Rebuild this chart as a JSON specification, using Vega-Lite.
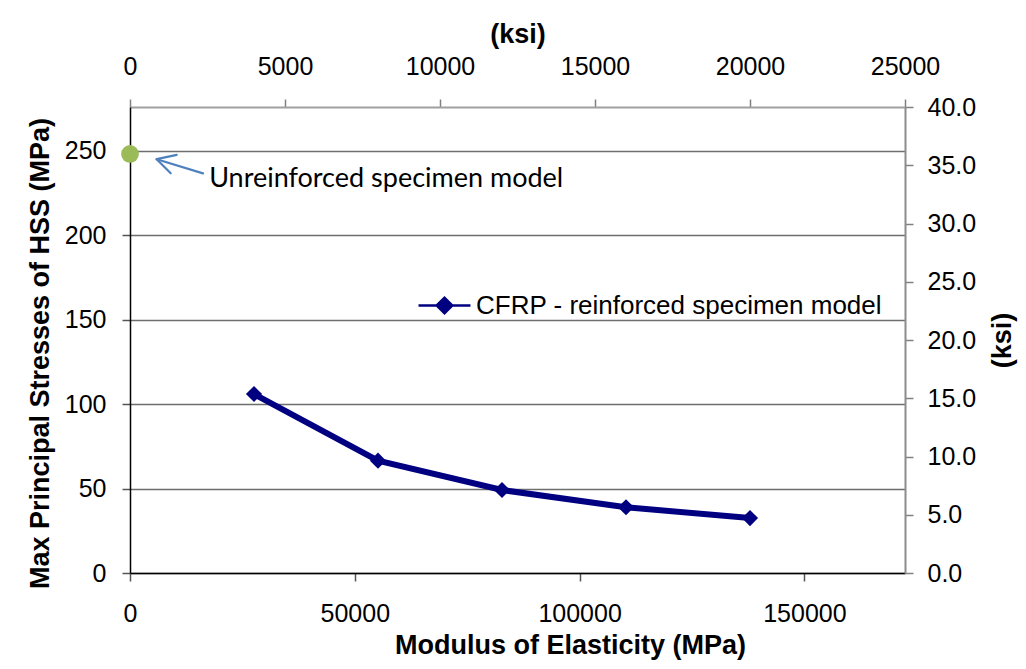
{
  "$schema": "https://vega.github.io/schema/vega-lite/v6.json",
  "width": 775,
  "height": 466,
  "autosize": {"type": "none"},
  "padding": {"left": 130, "top": 107, "right": 121, "bottom": 96},
  "background": "white",
  "config": {
    "view": {"stroke": null},
    "font": "Liberation Sans",
    "axis": {
      "labelFont": "Liberation Sans",
      "labelFontSize": 25,
      "labelColor": "black",
      "labelFlush": false,
      "labelOverlap": false,
      "labelBound": false,
      "titleFont": "Liberation Sans",
      "titleFontSize": 27,
      "titleFontWeight": "bold",
      "titleColor": "black",
      "tickSize": 8,
      "tickColor": "#808080",
      "tickWidth": 1.5
    }
  },
  "datasets": {
    "cfrp": [
      {"modulus": 27579, "stress": 105.9, "series": "CFRP - reinforced specimen model"},
      {"modulus": 55158, "stress": 66.5, "series": "CFRP - reinforced specimen model"},
      {"modulus": 82737, "stress": 49.1, "series": "CFRP - reinforced specimen model"},
      {"modulus": 110316, "stress": 38.9, "series": "CFRP - reinforced specimen model"},
      {"modulus": 137895, "stress": 32.5, "series": "CFRP - reinforced specimen model"}
    ],
    "unreinforced": [
      {"modulus": 0, "stress": 248}
    ],
    "note": [
      {"modulus": 17600, "stress": 233, "label": "Unreinforced specimen model"}
    ],
    "arrow": [
      {"modulus": 16236, "stress": 236.5, "modulus_end": 5938, "stress_end": 244.9},
      {"modulus": 10387, "stress": 247.5, "modulus_end": 5938, "stress_end": 244.9},
      {"modulus": 9052, "stress": 236.6, "modulus_end": 5938, "stress_end": 244.9}
    ],
    "ksi": [
      {"modulus_ksi": 0, "stress_ksi": 0},
      {"modulus_ksi": 25000, "stress_ksi": 40}
    ]
  },
  "layer": [
    {
      "encoding": {
        "x": {
          "field": "modulus",
          "type": "quantitative",
          "scale": {"domain": [0, 172369], "nice": false, "zero": false},
          "axis": {
            "orient": "bottom",
            "title": "Modulus of Elasticity (MPa)",
            "values": [0, 50000, 100000, 150000],
            "format": "d",
            "grid": false,
            "domainColor": "black",
            "domainWidth": 1.5,
            "tickColor": "#555555",
            "labelPadding": 20,
            "titlePadding": 6,
            "titleX": 440,
            "titleAnchor": null
          }
        },
        "y": {
          "field": "stress",
          "type": "quantitative",
          "scale": {"domain": [0, 275.79], "nice": false},
          "axis": {
            "orient": "left",
            "title": "Max Principal Stresses of HSS (MPa)",
            "values": [0, 50, 100, 150, 200, 250],
            "grid": true,
            "gridColor": "#6e6e6e",
            "gridWidth": 1.3,
            "domainColor": "black",
            "domainWidth": 1.5,
            "tickColor": "#555555",
            "labelPadding": 16,
            "titleX": -90,
            "titleY": 246,
            "titleAlign": "center",
            "titleBaseline": "middle",
            "titleAnchor": null
          }
        }
      },
      "layer": [
        {
          "data": {"name": "cfrp"},
          "mark": {"type": "line", "strokeWidth": 6},
          "encoding": {
            "color": {
              "field": "series",
              "type": "nominal",
              "scale": {"range": ["#000080"]},
              "legend": {
                "title": null,
                "orient": "none",
                "legendX": 287,
                "legendY": 171,
                "symbolType": "M-1,0L-0.3,0M0.3,0L1,0M-0.3,0L0,-0.3L0.3,0L0,0.3Z",
                "symbolSize": 2700,
                "symbolStrokeWidth": 2.5,
                "symbolStrokeColor": "#000080",
                "symbolFillColor": "#000080",
                "labelFont": "Liberation Sans",
                "labelFontSize": 26,
                "labelColor": "black",
                "labelLimit": 0,
                "labelOffset": 4
              }
            }
          }
        },
        {
          "data": {"name": "cfrp"},
          "mark": {"type": "point", "shape": "diamond", "filled": true, "size": 260, "opacity": 1, "color": "#000080"}
        },
        {
          "data": {"name": "unreinforced"},
          "mark": {"type": "circle", "size": 314, "opacity": 1, "color": "#9bbb59", "clip": false}
        },
        {
          "data": {"name": "arrow"},
          "mark": {"type": "rule", "color": "#4f81bd", "strokeWidth": 2.2, "strokeCap": "round"},
          "encoding": {
            "x2": {"field": "modulus_end"},
            "y2": {"field": "stress_end"}
          }
        },
        {
          "data": {"name": "note"},
          "mark": {"type": "text", "align": "left", "baseline": "middle", "font": "Lato", "fontSize": 27, "color": "black"},
          "encoding": {
            "text": {"field": "label"}
          }
        }
      ]
    },
    {
      "data": {"name": "ksi"},
      "mark": {"type": "point", "opacity": 0},
      "encoding": {
        "x": {
          "field": "modulus_ksi",
          "type": "quantitative",
          "scale": {"domain": [0, 25000], "nice": false, "zero": false},
          "axis": {
            "orient": "top",
            "title": "(ksi)",
            "values": [0, 5000, 10000, 15000, 20000, 25000],
            "format": "d",
            "grid": false,
            "domainColor": "#a0a0a0",
            "domainWidth": 2,
            "labelPadding": 20,
            "titlePadding": 6
          }
        },
        "y": {
          "field": "stress_ksi",
          "type": "quantitative",
          "scale": {"domain": [0, 40], "nice": false},
          "axis": {
            "orient": "right",
            "title": "(ksi)",
            "titleAngle": -90,
            "titleX": 97,
            "titleY": 233,
            "titleAlign": "center",
            "titleBaseline": "middle",
            "titleAnchor": null,
            "values": [0, 5, 10, 15, 20, 25, 30, 35, 40],
            "format": ".1f",
            "grid": false,
            "domainColor": "#8c8c8c",
            "domainWidth": 2,
            "labelPadding": 14
          }
        }
      }
    }
  ],
  "resolve": {
    "scale": {"x": "independent", "y": "independent"},
    "axis": {"x": "independent", "y": "independent"}
  }
}
